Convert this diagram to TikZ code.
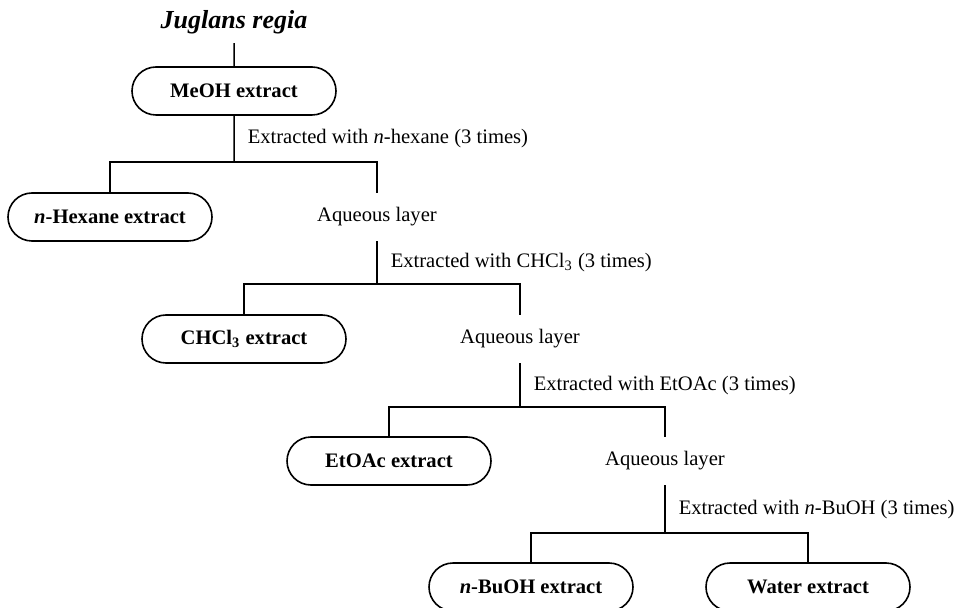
\documentclass[tikz,border=0pt]{standalone}
\usepackage{fontspec}
\setmainfont{Liberation Serif}
\usepackage{tikz}
\usetikzlibrary{shapes.misc, positioning, calc}

\begin{document}
\begin{tikzpicture}[
    x=0.5pt, y=-0.5pt,
    title/.style={inner sep=4.5pt, font=\fontsize{13}{15}\selectfont\bfseries\itshape},
    extract/.style={rounded rectangle, draw, line width=0.8pt, minimum width=102pt, minimum height=24pt, inner sep=0pt, font=\fontsize{10.3}{12}\selectfont\bfseries},
    layer/.style={minimum height=24pt, inner sep=0pt, font=\fontsize{10.3}{12}\selectfont},
    step_lbl/.style={right, inner sep=0pt, xshift=6.5pt, font=\fontsize{10.3}{12}\selectfont},
    tree/.style={line width=0.75pt}
]
    \useasboundingbox (0,0) rectangle (956,608);

    % Nodes
    \node[title] (plant) at (234,22) {Juglans regia};
    \node[extract] (meoh) at (234,91) {MeOH extract};
    \node[extract] (hexane) at (110,217) {\textit{n}-Hexane extract};
    \node[layer] (aq1) at (377,217) {Aqueous layer};
    \node[extract] (chcl) at (244,339) {CHCl\textsubscript{3} extract};
    \node[layer] (aq2) at (520,339) {Aqueous layer};
    \node[extract] (etoac) at (389,461) {EtOAc extract};
    \node[layer] (aq3) at (665,461) {Aqueous layer};
    \node[extract] (buoh) at (531,587) {\textit{n}-BuOH extract};
    \node[extract] (water) at (808,587) {Water extract};

    % Split points
    \coordinate (s1) at (234,162);
    \coordinate (s2) at (377,284);
    \coordinate (s3) at (520,407);
    \coordinate (s4) at (665,533);

    % Lines
    \draw[tree] (plant) -- (meoh);
    \draw[tree] (meoh) -- node[step_lbl] {Extracted with \textit{n}-hexane (3 times)} (s1);
    \draw[tree] (hexane) |- (s1) -| (aq1);
    \draw[tree] (aq1) -- node[step_lbl] {Extracted with CHCl\textsubscript{3} (3 times)} (s2);
    \draw[tree] (chcl) |- (s2) -| (aq2);
    \draw[tree] (aq2) -- node[step_lbl] {Extracted with EtOAc (3 times)} (s3);
    \draw[tree] (etoac) |- (s3) -| (aq3);
    \draw[tree] (aq3) -- node[step_lbl] {Extracted with \textit{n}-BuOH (3 times)} (s4);
    \draw[tree] (buoh) |- (s4) -| (water);
\end{tikzpicture}
\end{document}
